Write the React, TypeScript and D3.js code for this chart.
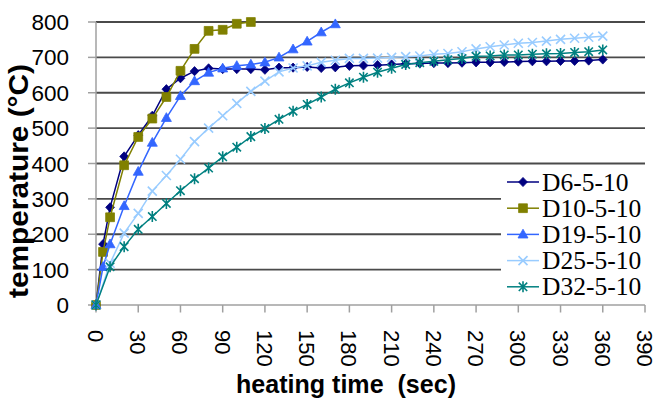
import React from 'react';
import * as d3 from 'd3';

const xTicks = [0, 30, 60, 90, 120, 150, 180, 210, 240, 270, 300, 330, 360, 390];
const yTicks = [0, 100, 200, 300, 400, 500, 600, 700, 800];

const seriesNames = ['D6-5-10', 'D10-5-10', 'D19-5-10', 'D25-5-10', 'D32-5-10'];

const t6 = [0, 5, 10, 20, 30, 40, 50, 60, 70, 80, 90, 100, 110, 120, 130, 140, 150, 160, 170, 180, 190, 200, 210, 220, 230, 240, 250, 260, 270, 280, 290, 300, 310, 320, 330, 340, 350, 360];
const v6 = [0, 172, 276, 420, 480, 535, 610, 641, 661, 669, 667, 667, 667, 665, 671, 671, 673, 670, 672, 676, 677, 678, 680, 682, 683, 684, 684, 685, 686, 686, 687, 688, 689, 689, 690, 690, 691, 694];

const t10 = [0, 5, 10, 20, 30, 40, 50, 60, 70, 80, 90, 100, 110];
const v10 = [0, 150, 248, 395, 475, 527, 588, 662, 724, 775, 778, 795, 800];

const t19 = [0, 5, 10, 20, 30, 40, 50, 60, 70, 80, 90, 100, 110, 120, 130, 140, 150, 160, 170];
const v19 = [0, 108, 172, 280, 377, 459, 529, 591, 633, 657, 669, 676, 680, 686, 700, 723, 745, 771, 794];

const t25 = [0, 10, 20, 30, 40, 50, 60, 70, 80, 90, 100, 110, 120, 130, 140, 150, 160, 170, 180, 190, 200, 210, 220, 230, 240, 250, 260, 270, 280, 290, 300, 310, 320, 330, 340, 350, 360];
const v25 = [0, 118, 203, 259, 322, 366, 412, 462, 500, 535, 570, 604, 633, 659, 670, 676, 686, 692, 697, 697, 698, 700, 702, 704, 709, 711, 716, 724, 730, 735, 740, 742, 746, 751, 754, 757, 760];

const t32 = [0, 10, 20, 30, 40, 50, 60, 70, 80, 90, 100, 110, 120, 130, 140, 150, 160, 170, 180, 190, 200, 210, 220, 230, 240, 250, 260, 270, 280, 290, 300, 310, 320, 330, 340, 350, 360];
const v32 = [0, 108, 165, 214, 250, 287, 323, 357, 387, 419, 446, 476, 499, 525, 548, 567, 588, 610, 628, 644, 658, 669, 680, 685, 689, 693, 697, 703, 704, 707, 707, 709, 710, 711, 714, 716, 721];

const colors = ['#000080', '#808000', '#3366FF', '#99CCFF', '#008080'];
const shapes = ['diamond', 'square', 'triangle', 'x', 'asterisk'];

const W = 656, H = 399;
const x = d3.scaleLinear().domain([0, 390]).range([96, 645]);
const y = d3.scaleLinear().domain([0, 800]).range([305, 22]);

function markerPath(shape: string): string {
  switch (shape) {
    case 'diamond': return 'M0,-4.6L4.4,0L0,4.6L-4.4,0Z';
    case 'square': return 'M-4.4,-4.4H4.4V4.4H-4.4Z';
    case 'triangle': return 'M0,-5.2L5,3.6L-5,3.6Z';
    case 'x': return 'M-4.5,-4.5L4.5,4.5M4.5,-4.5L-4.5,4.5';
    default: return 'M-4.2,-4.2L4.2,4.2M4.2,-4.2L-4.2,4.2M0,-5.5V5.5';
  }
}

function Marker({ shape, color, cx, cy }: { shape: string; color: string; cx: number; cy: number }) {
  const open = shape === 'x' || shape === 'asterisk';
  return (
    <path
      d={markerPath(shape)}
      transform={`translate(${cx},${cy})`}
      fill={open ? 'none' : color}
      stroke={color}
      strokeWidth={open ? 1.6 : 0.8}
    />
  );
}

export default function App() {
  const series = [
    { t: t6, v: v6 },
    { t: t10, v: v10 },
    { t: t19, v: v19 },
    { t: t25, v: v25 },
    { t: t32, v: v32 },
  ];
  const line = d3.line<[number, number]>().x(d => x(d[0])).y(d => y(d[1]));
  const legendY0 = 182, legendStep = 26.2;

  return (
    <svg width={W} height={H} style={{ position: 'absolute', left: 0, top: 0, background: '#fff' }}>
      <rect x={0} y={0} width={W} height={H} fill="#fff" />
      {yTicks.filter(v => v > 0).map(v => (
        <line key={'g' + v} x1={x(0)} x2={x(390)} y1={y(v)} y2={y(v)} stroke="#4a4a4a" strokeWidth={1.8} />
      ))}
      <line x1={x(0)} x2={x(0)} y1={y(800)} y2={y(0)} stroke="#a0a0a0" strokeWidth={1.5} />
      {yTicks.map(v => (
        <g key={'yt' + v}>
          <line x1={88} x2={x(0)} y1={y(v)} y2={y(v)} stroke="#a0a0a0" strokeWidth={1.5} />
          <text x={69} y={y(v)} dy="0.36em" textAnchor="end" fontFamily="Liberation Sans, Arial, sans-serif" fontSize={22.5} fill="#000">{v}</text>
        </g>
      ))}
      <line x1={x(0)} x2={x(390)} y1={y(0)} y2={y(0)} stroke="#a0a0a0" strokeWidth={1.5} />
      {xTicks.map(v => (
        <g key={'xt' + v}>
          <line x1={x(v)} x2={x(v)} y1={y(0)} y2={y(0) + 7.5} stroke="#a0a0a0" strokeWidth={1.5} />
          <text transform={`translate(${x(v) - 8},330) rotate(90)`} textAnchor="start" fontFamily="Liberation Sans, Arial, sans-serif" fontSize={22} fill="#000">{v}</text>
        </g>
      ))}
      <rect x={501} y={168} width={155} height={135} fill="#fff" />
      {series.map((s, i) => {
        const pts: [number, number][] = s.t.map((tt, j) => [tt, s.v[j]]);
        return (
          <g key={'s' + i}>
            <path d={line(pts) || ''} fill="none" stroke={colors[i]} strokeWidth={1.5} />
            {pts.map((p, j) => (
              <Marker key={j} shape={shapes[i]} color={colors[i]} cx={x(p[0])} cy={y(p[1])} />
            ))}
          </g>
        );
      })}
      {seriesNames.map((n, i) => {
        const ly = legendY0 + i * legendStep;
        return (
          <g key={'l' + i}>
            <line x1={507} x2={539} y1={ly} y2={ly} stroke={colors[i]} strokeWidth={1.5} />
            <Marker shape={shapes[i]} color={colors[i]} cx={523} cy={ly} />
            <text x={542} y={ly} dy="0.34em" fontFamily="Liberation Serif, Times New Roman, serif" fontSize={25.5} fill="#000">{n}</text>
          </g>
        );
      })}
      <text transform="translate(28,181) rotate(-90)" textAnchor="middle" fontFamily="Liberation Sans, Arial, sans-serif" fontWeight="bold" fontSize={27} textLength={234} lengthAdjust="spacingAndGlyphs" fill="#000">temperature (°C)</text>
      <text x={346} y={393} textAnchor="middle" fontFamily="Liberation Sans, Arial, sans-serif" fontWeight="bold" fontSize={25} textLength={220} lengthAdjust="spacingAndGlyphs" fill="#000" style={{ whiteSpace: 'pre' }}>{'heating time  (sec)'}</text>
    </svg>
  );
}
